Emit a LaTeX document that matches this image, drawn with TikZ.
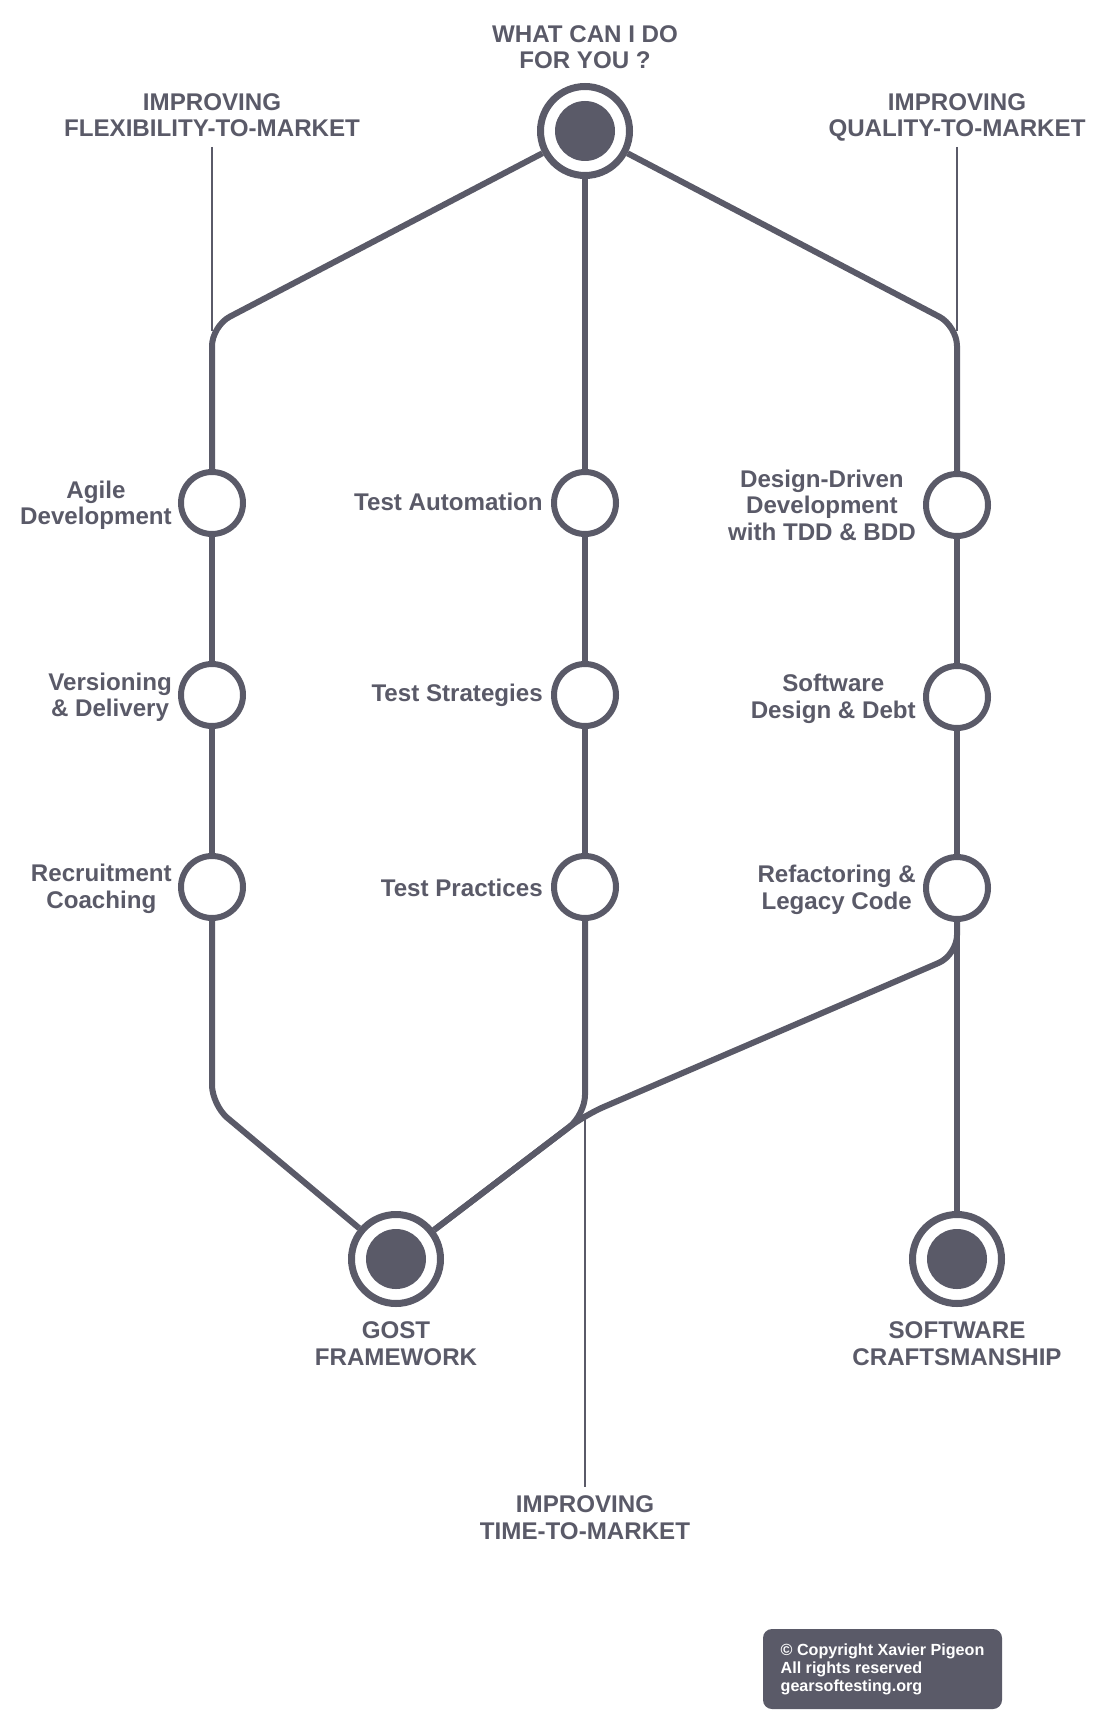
\documentclass[tikz,border=0pt]{standalone}
\usepackage{fontspec}
\setmainfont{Liberation Sans}
\definecolor{ink}{RGB}{90,90,104}
\begin{document}
\begin{tikzpicture}[x=0.75pt,y=-0.75pt,
  line/.style={draw=ink,line width=4.5pt},
  roundline/.style={line,rounded corners=15pt},
  guide/.style={draw=ink,line width=1.5pt},
  stop/.style={circle,draw=ink,line width=4.5pt,fill=white,minimum size=46.5pt,inner sep=0pt},
  terminus/.style={circle,draw=ink,line width=5.25pt,fill=white,minimum size=66.75pt,inner sep=0pt,
    path picture={\fill[ink] (path picture bounding box.center) circle (22.5pt);}},
  lbl/.style={text=ink,font=\fontsize{18.1pt}{19.8pt}\selectfont\bfseries,align=center,inner sep=0pt},
  stoplbl/.style={lbl,anchor=east,yshift=-1.5pt},
]
\useasboundingbox (0,0) rectangle (1106,1726);

% stations
\node[terminus] (top) at (585,131) {};
\node[stop] (a1) at (212,503) {};
\node[stop] (a2) at (212,695) {};
\node[stop] (a3) at (212,887) {};
\node[stop] (m1) at (585,503) {};
\node[stop] (m2) at (585,695) {};
\node[stop] (m3) at (585,887) {};
\node[stop] (r1) at (957,505) {};
\node[stop] (r2) at (957,697) {};
\node[stop] (r3) at (957,888) {};
\node[terminus] (gost) at (396,1259) {};
\node[terminus] (craft) at (957,1259) {};

% bends of the lines
\coordinate (cL) at (212,326);
\coordinate (cR) at (957,326);
\coordinate (bL) at (212,1105);
\coordinate (bM) at (585,1115);
\coordinate (bR) at (957,955);

% free ends of the thin guide lines
\coordinate (gL) at (212,147);
\coordinate (gR) at (957,147);
\coordinate (gB) at (585,1487);

% thin guides to the three goals
\draw[guide] (gL) -- ([yshift=-4pt]cL);
\draw[guide] (gR) -- ([yshift=-4pt]cR);
\draw[guide] (bM) -- (gB);

% lines
\draw[roundline] (top) -- (cL) -- (a1);
\draw[line] (top) -- (m1);
\draw[roundline] (top) -- (cR) -- (r1);
\draw[line] (a1) -- (a2);
\draw[line] (a2) -- (a3);
\draw[line] (m1) -- (m2);
\draw[line] (m2) -- (m3);
\draw[line] (r1) -- (r2);
\draw[line] (r2) -- (r3);
\draw[roundline] (a3) -- (bL) -- (gost);
\draw[roundline] (m3) -- (bM) -- (gost);
\draw[roundline] (r3) -- (bR) -- (bM) -- (gost);
\draw[line] (r3) -- (craft);

% headings (base anchor sits on the last line)
\node[lbl,anchor=base] (title) at (585,69) {WHAT CAN I DO\\FOR YOU ?};
\node[lbl,anchor=base] (flex) at (212,137) {IMPROVING\\FLEXIBILITY-TO-MARKET};
\node[lbl,anchor=base] (qual) at (957,137) {IMPROVING\\QUALITY-TO-MARKET};
\node[lbl,anchor=base] (time) at (585,1539) {IMPROVING\\TIME-TO-MARKET};
\node[lbl,anchor=base] (gostlbl) at (396,1365) {GOST\\FRAMEWORK};
\node[lbl,anchor=base] (craftlbl) at (957,1365) {SOFTWARE\\CRAFTSMANSHIP};

% station labels
\node[stoplbl] (a1l) at (172,503) {Agile\\Development};
\node[stoplbl] (a2l) at (172,695) {Versioning\\\& Delivery};
\node[stoplbl] (a3l) at (172,887) {Recruitment\\Coaching};
\node[stoplbl,yshift=2pt] (m1l) at (543,503) {Test Automation};
\node[stoplbl,yshift=1pt] (m2l) at (543,695) {Test Strategies};
\node[stoplbl,yshift=1pt] (m3l) at (543,887) {Test Practices};
\node[stoplbl,yshift=1.5pt] (r1l) at (916,505) {Design-Driven\\Development\\with TDD \& BDD};
\node[stoplbl] (r2l) at (916,697) {Software\\Design \& Debt};
\node[stoplbl] (r3l) at (916,888) {Refactoring \&\\Legacy Code};

% copyright badge
\node[fill=ink,rounded corners=6.75pt,minimum width=179.25pt,minimum height=60pt,
      align=left,text=white,
      font=\fontsize{12.1pt}{13.5pt}\selectfont\bfseries] (copy) at (882.5,1669)
  {© Copyright Xavier Pigeon\\All rights reserved\\gearsoftesting.org};
\end{tikzpicture}
\end{document}
